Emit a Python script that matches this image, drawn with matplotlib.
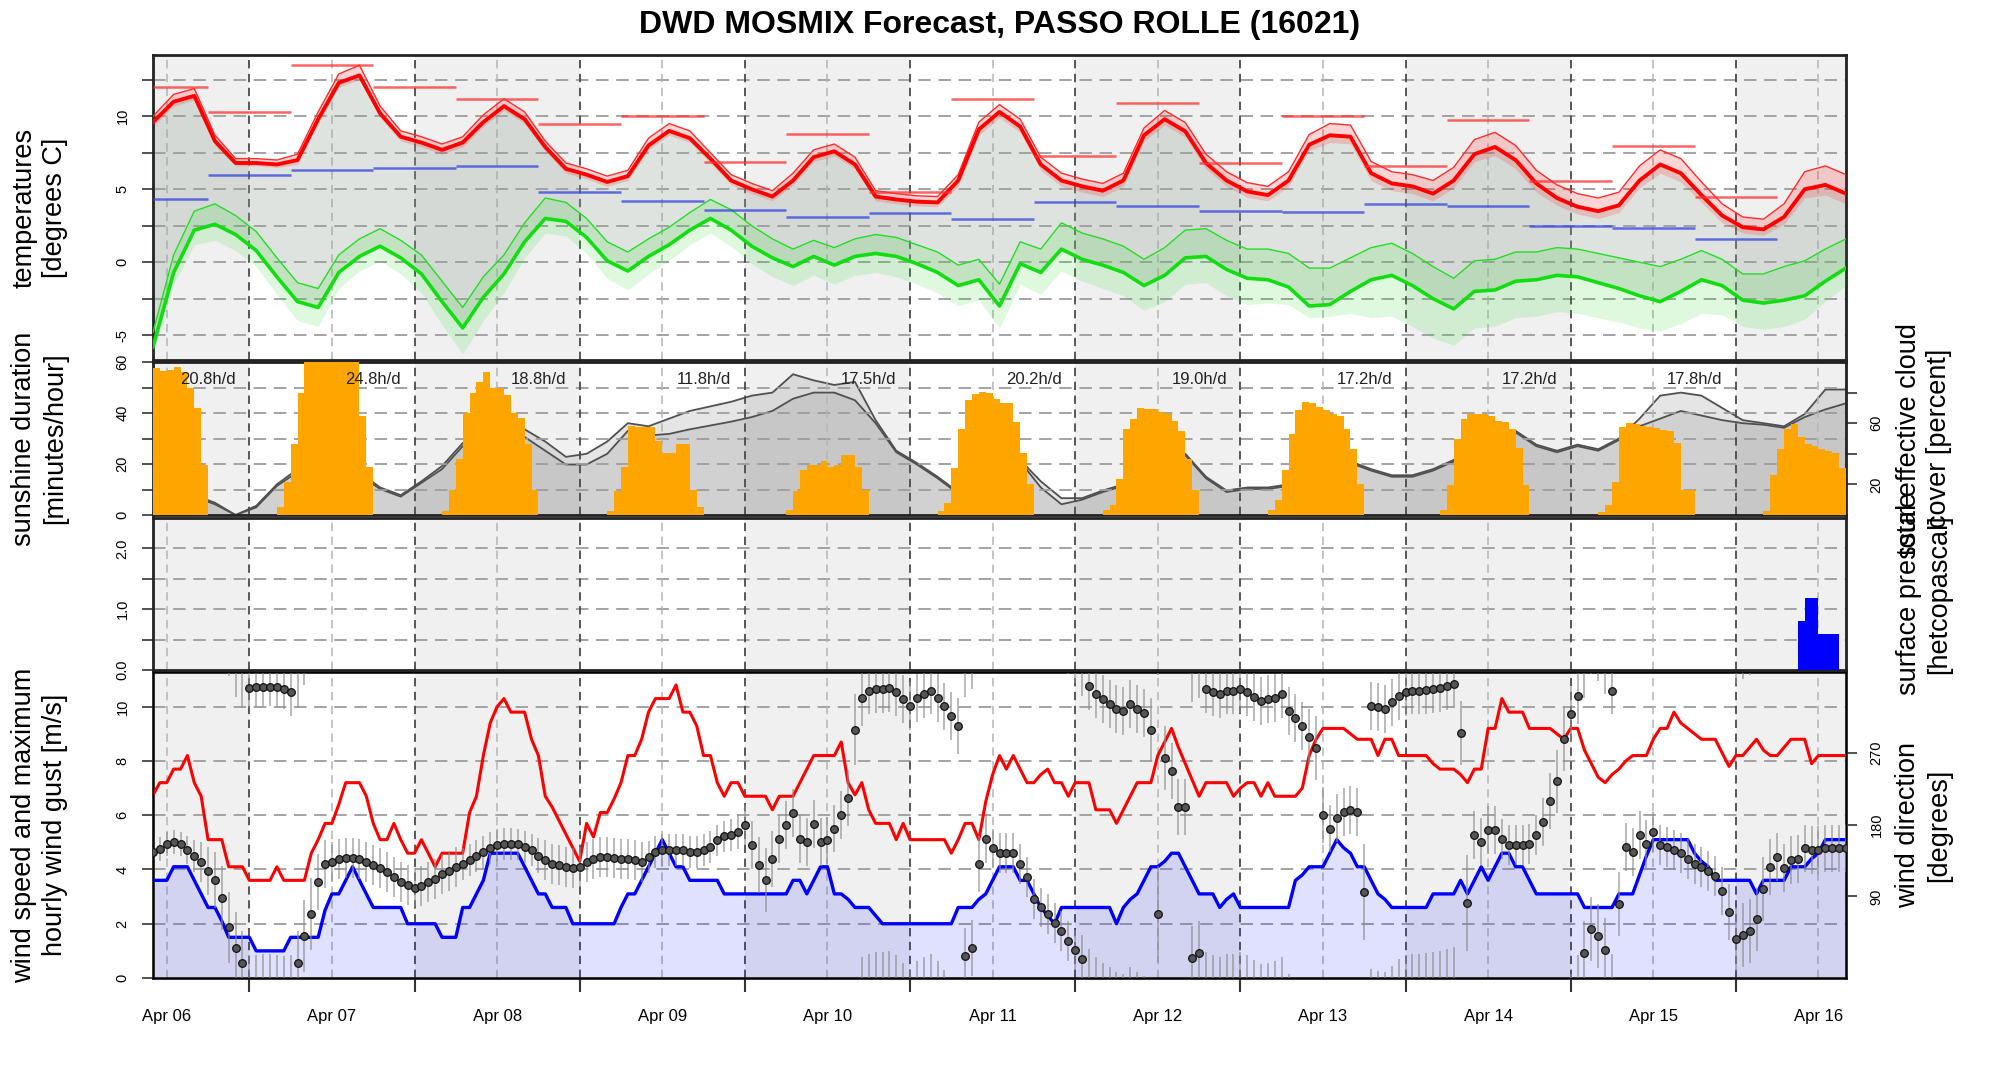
import matplotlib
matplotlib.use("Agg")
import matplotlib.pyplot as plt
import numpy as np

plt.rcParams["font.family"] = ["Liberation Sans", "DejaVu Sans"]
plt.rcParams["lines.scale_dashes"] = False

# ---------------------------------------------------------------- data
# time axis: hours since Apr 06 10:00 UTC, forecast runs to hour 246
day_labels = ["Apr 06", "Apr 07", "Apr 08", "Apr 09", "Apr 10", "Apr 11",
              "Apr 12", "Apr 13", "Apr 14", "Apr 15", "Apr 16"]
noons = [2, 26, 50, 74, 98, 122, 146, 170, 194, 218, 242]
midnights = [14, 38, 62, 86, 110, 134, 158, 182, 206, 230]
day_bands = [(0, 14), (38, 62), (86, 110), (134, 158), (182, 206), (230, 246)]

# 3-hourly temperature / dew point [degC]
temp = [9.6, 11.0, 11.4, 8.3, 6.8, 6.8, 6.7, 7.0, 9.8, 12.3,
        12.8, 10.2, 8.6, 8.2, 7.7, 8.2, 9.6, 10.7, 9.8, 7.9,
        6.4, 6.0, 5.5, 5.9, 8.0, 9.0, 8.5, 7.1, 5.6, 5.0,
        4.5, 5.6, 7.2, 7.6, 6.7, 4.5, 4.3, 4.15, 4.1, 5.6,
        9.1, 10.3, 9.3, 6.7, 5.6, 5.2, 4.9, 5.6, 8.7, 9.8,
        8.97, 6.8, 5.6, 4.85, 4.6, 5.6, 8.05, 8.7, 8.6, 6.1,
        5.4, 5.2, 4.7, 5.6, 7.4, 7.9, 7.0, 5.4, 4.4, 3.8,
        3.5, 3.9, 5.6, 6.7, 6.1, 4.6, 3.2, 2.4, 2.25, 3.1,
        5.0, 5.3, 4.7]
temp_up = [0.4, 0.5, 0.5, 0.4, 0.3, 0.3, 0.3, 0.4, 0.5, 0.6,
           0.7, 0.5, 0.4, 0.4, 0.4, 0.4, 0.5, 0.5, 0.5, 0.4,
           0.4, 0.4, 0.4, 0.4, 0.5, 0.5, 0.5, 0.4, 0.4, 0.4,
           0.4, 0.5, 0.5, 0.5, 0.5, 0.4, 0.4, 0.4, 0.4, 0.4,
           0.5, 0.5, 0.5, 0.5, 0.5, 0.5, 0.5, 0.5, 0.5, 0.6,
           0.6, 0.6, 0.6, 0.6, 0.6, 0.6, 0.7, 0.8, 0.8, 0.8,
           0.8, 0.8, 0.9, 0.9, 1.0, 1.0, 1.0, 0.9, 0.9, 0.9,
           0.9, 0.9, 1.0, 1.0, 1.0, 0.9, 0.8, 0.7, 0.7, 0.9,
           1.2, 1.3, 1.3]
temp_dn = [0.3, 0.3, 0.3, 0.3, 0.2, 0.2, 0.2, 0.3, 0.3, 0.3,
           0.3, 0.3, 0.3, 0.3, 0.3, 0.3, 0.3, 0.3, 0.3, 0.3,
           0.3, 0.3, 0.3, 0.3, 0.3, 0.3, 0.3, 0.3, 0.3, 0.3,
           0.3, 0.3, 0.3, 0.3, 0.3, 0.3, 0.3, 0.3, 0.3, 0.4,
           0.4, 0.4, 0.4, 0.4, 0.4, 0.4, 0.4, 0.4, 0.4, 0.4,
           0.4, 0.4, 0.4, 0.4, 0.4, 0.4, 0.4, 0.5, 0.5, 0.5,
           0.5, 0.5, 0.5, 0.5, 0.5, 0.6, 0.6, 0.6, 0.5, 0.5,
           0.5, 0.5, 0.5, 0.6, 0.6, 0.5, 0.5, 0.4, 0.4, 0.5,
           0.6, 0.7, 0.7]
dew = [-5.8, -0.7, 2.2, 2.6, 1.9, 0.8, -1.0, -2.7, -3.1, -0.7,
       0.4, 1.1, 0.3, -0.8, -2.7, -4.5, -2.4, -0.8, 1.4, 3.0,
       2.8, 1.7, 0.1, -0.6, 0.4, 1.2, 2.2, 3.0, 2.2, 1.1,
       0.3, -0.3, 0.4, -0.2, 0.4, 0.6, 0.4, -0.1, -0.7, -1.6,
       -1.2, -3.0, -0.1, -0.7, 0.9, 0.2, -0.2, -0.7, -1.6, -0.9,
       0.3, 0.4, -0.5, -1.1, -1.2, -1.7, -3.0, -2.9, -2.0, -1.2,
       -0.9, -1.6, -2.5, -3.2, -2.0, -1.9, -1.3, -1.2, -0.9, -1.0,
       -1.4, -1.8, -2.3, -2.7, -2.0, -1.2, -1.6, -2.6, -2.8, -2.6,
       -2.3, -1.3, -0.4]
dew_up = [1.0, 1.2, 1.3, 1.4, 1.3, 1.3, 1.3, 1.3, 1.3, 1.2,
          1.2, 1.2, 1.2, 1.3, 1.4, 1.4, 1.4, 1.3, 1.3, 1.4,
          1.3, 1.3, 1.3, 1.3, 1.2, 1.2, 1.2, 1.3, 1.4, 1.4,
          1.3, 1.2, 1.1, 1.2, 1.2, 1.3, 1.3, 1.3, 1.4, 1.4,
          1.4, 1.5, 1.5, 1.6, 1.8, 1.8, 1.8, 1.8, 1.8, 1.9,
          1.9, 1.9, 2.0, 2.0, 2.1, 2.3, 2.6, 2.5, 2.3, 2.2,
          2.2, 2.2, 2.2, 2.1, 2.1, 2.1, 2.0, 1.9, 1.9, 1.9,
          2.0, 2.1, 2.3, 2.4, 2.2, 2.0, 1.8, 1.8, 2.0, 2.3,
          2.4, 2.2, 2.0]
dew_dn = [0.5, 0.8, 1.0, 1.1, 1.1, 1.1, 1.2, 1.3, 1.3, 1.1,
          1.0, 1.0, 1.1, 1.3, 1.6, 1.8, 1.6, 1.3, 1.1, 1.0,
          1.0, 1.1, 1.2, 1.3, 1.2, 1.1, 1.0, 1.0, 1.1, 1.2,
          1.3, 1.3, 1.3, 1.3, 1.3, 1.3, 1.4, 1.4, 1.4, 1.4,
          1.4, 1.5, 1.4, 1.5, 1.5, 1.5, 1.6, 1.6, 1.7, 1.8,
          1.8, 1.8, 1.8, 1.8, 1.6, 1.2, 0.8, 0.8, 1.5, 2.6,
          2.8, 2.8, 2.7, 2.5, 2.5, 2.5, 2.5, 2.5, 2.5, 2.5,
          2.4, 2.3, 2.2, 2.0, 2.2, 2.3, 2.0, 1.8, 1.8, 1.8,
          1.6, 1.4, 1.2]

# 12-hour extremes (periods end 06 / 18 UTC)
period_edges = [0, 8, 20, 32, 44, 56, 68, 80, 92, 104, 116, 128, 140, 152,
                164, 176, 188, 200, 212, 224, 236]
tmax_12h = [12.0, 10.28, 13.5, 12.0, 11.2, 9.47, 10.0, 6.86, 8.76, 4.8,
            11.2, 7.25, 10.9, 6.77, 10.0, 6.56, 9.77, 5.55, 7.96, 4.5]
tmin_12h = [4.33, 5.96, 6.31, 6.49, 6.56, 4.84, 4.22, 3.56, 3.1, 3.37,
            2.96, 4.15, 3.88, 3.53, 3.42, 3.97, 3.88, 2.5, 2.34, 1.56]

# sunshine [minutes/hour], one block per day starting at the given hour
sun_start = [0, 18, 42, 66, 92, 114, 138, 162, 187, 210, 234]
sun_minutes = [
    [57.5, 56.5, 57.0, 58.0, 56.0, 50.0, 42.0, 19.7],
    [3, 13, 28, 48, 60, 60, 60, 60, 60, 60, 60, 60, 39, 19],
    [1.7, 10, 22, 40, 48, 52, 56, 50, 50, 47, 40, 38, 28, 10],
    [1.5, 9.5, 19, 35, 34.5, 34.5, 34.5, 29, 24.4, 24.4, 27.7, 27.7, 10, 3],
    [2, 9.5, 17.6, 19.6, 19.6, 21, 19, 19.6, 23.7, 23.7, 19, 10],
    [1.5, 4.8, 18.3, 33.8, 45.2, 47.6, 48.2, 48, 45.5, 44, 44, 36.5, 24.4, 12.2],
    [2, 4, 14, 33.8, 37.8, 41.9, 41.5, 41.5, 40.5, 39.8, 37, 33, 22, 10],
    [2, 6, 17.6, 31.8, 41.2, 44.5, 43.9, 42.5, 41.2, 39.8, 39, 33.8, 25.7, 12.2],
    [2, 11.6, 29.7, 37.8, 39.8, 39.8, 39.8, 39, 37, 36.5, 33.8, 26.4, 11.6],
    [1, 4, 13, 34.5, 36, 35.5, 35, 34.5, 34, 33.5, 33, 28.4, 10, 10],
    [1.5, 15.6, 25.7, 33.8, 35.8, 30.4, 27.7, 27, 25.7, 25, 24.5, 18.3],
]
sun_text_hours = [8, 32, 56, 80, 104, 128, 152, 176, 200, 224]
sun_text = ["20.8h/d", "24.8h/d", "18.8h/d", "11.8h/d", "17.5h/d",
            "20.2h/d", "19.0h/d", "17.2h/d", "17.2h/d", "17.8h/d"]

# 3-hourly cloud cover [percent]
cloud_total = [15, 15, 13, 8, 0, 6, 20, 30, 35, 35,
               28, 18, 13, 22, 32, 47, 52, 55, 56, 48,
               38, 40, 48, 60, 58, 63, 68, 71, 74, 78,
               80, 92, 88, 85, 87, 62, 42, 34, 25, 15,
               20, 28, 36, 22, 11, 11, 16, 20, 25, 35,
               40, 25, 16, 18, 18, 20, 24, 30, 35, 30,
               26, 26, 30, 36, 45, 50, 55, 46, 42, 46,
               43, 50, 63, 78, 80, 78, 70, 62, 60, 58,
               66, 82, 82]
cloud_eff = [14, 14, 12, 7, 0, 5, 19, 28, 33, 33,
             26, 17, 12, 21, 30, 45, 48, 50, 51, 42,
             33, 33, 40, 55, 52, 53, 56, 58.5, 61, 64,
             68, 76, 80, 80, 75, 60, 41, 33, 24, 14,
             19, 27, 35, 18, 7, 10, 15, 19, 24, 34,
             39, 24, 15, 17, 17, 19, 23, 29, 34, 29,
             25, 25, 29, 35, 44, 49, 54, 45, 41, 45,
             42, 49, 58, 63, 68, 65, 62, 60, 59, 57,
             64, 69, 73]

# precipitation [mm/h]
precip_hours = [239, 240, 241, 242, 243, 244]
precip = [0.81, 1.18, 1.18, 0.59, 0.59, 0.59]

# hourly wind
wind_mean = [3.6, 3.6, 3.6, 4.1, 4.1, 4.1, 3.6, 3.1, 2.6, 2.6,
             2.1, 1.5, 1.5, 1.5, 1.5, 1.0, 1.0, 1.0, 1.0, 1.0,
             1.5, 1.5, 1.5, 1.5, 1.5, 2.5, 3.1, 3.1, 3.6, 4.1,
             3.6, 3.1, 2.6, 2.6, 2.6, 2.6, 2.6, 2.0, 2.0, 2.0,
             2.0, 2.0, 1.5, 1.5, 1.5, 2.6, 2.6, 3.1, 3.6, 4.6,
             4.6, 4.6, 4.6, 4.6, 4.1, 3.6, 3.1, 3.1, 2.6, 2.6,
             2.6, 2.0, 2.0, 2.0, 2.0, 2.0, 2.0, 2.0, 2.6, 3.1,
             3.1, 3.6, 4.1, 4.6, 5.1, 4.6, 4.1, 4.1, 3.6, 3.6,
             3.6, 3.6, 3.6, 3.1, 3.1, 3.1, 3.1, 3.1, 3.1, 3.1,
             3.1, 3.1, 3.1, 3.6, 3.6, 3.1, 3.6, 4.1, 4.1, 3.1,
             3.1, 2.9, 2.6, 2.6, 2.6, 2.3, 2.0, 2.0, 2.0, 2.0,
             2.0, 2.0, 2.0, 2.0, 2.0, 2.0, 2.0, 2.6, 2.6, 2.6,
             2.9, 3.1, 3.6, 4.1, 4.1, 4.1, 3.6, 3.6, 3.1, 2.6,
             2.3, 2.0, 2.6, 2.6, 2.6, 2.6, 2.6, 2.6, 2.6, 2.6,
             2.0, 2.6, 2.9, 3.1, 3.6, 4.1, 4.1, 4.3, 4.6, 4.6,
             4.1, 3.6, 3.1, 3.1, 3.1, 2.6, 2.9, 3.1, 2.6, 2.6,
             2.6, 2.6, 2.6, 2.6, 2.6, 2.6, 3.6, 3.8, 4.1, 4.1,
             4.1, 4.6, 5.1, 4.8, 4.6, 4.1, 4.1, 3.6, 3.1, 2.9,
             2.6, 2.6, 2.6, 2.6, 2.6, 2.6, 3.1, 3.1, 3.1, 3.1,
             3.6, 3.1, 3.6, 4.1, 3.6, 4.1, 4.6, 4.6, 4.1, 4.1,
             3.6, 3.1, 3.1, 3.1, 3.1, 3.1, 3.1, 3.1, 2.6, 2.6,
             2.6, 2.6, 2.6, 3.1, 3.1, 3.1, 3.8, 4.5, 5.1, 5.1,
             5.1, 5.1, 5.1, 5.1, 4.6, 4.3, 4.1, 3.6, 3.6, 3.6,
             3.6, 3.6, 3.6, 3.1, 3.6, 3.6, 3.6, 3.6, 4.1, 4.1,
             4.1, 4.4, 4.6, 5.1, 5.1, 5.1, 5.1]
wind_gust = [6.75, 7.2, 7.2, 7.7, 7.7, 8.2, 7.2, 6.7, 5.1, 5.1,
             5.1, 4.1, 4.1, 4.1, 3.6, 3.6, 3.6, 3.6, 4.1, 3.6,
             3.6, 3.6, 3.6, 4.6, 5.1, 5.7, 5.7, 6.4, 7.2, 7.2,
             7.2, 6.7, 5.7, 5.1, 5.1, 5.7, 5.1, 4.6, 4.6, 5.1,
             4.6, 4.1, 4.6, 4.6, 4.6, 4.6, 6.1, 6.7, 8.2, 9.4,
             10.0, 10.3, 9.8, 9.8, 9.8, 8.8, 8.2, 6.7, 6.3, 5.8,
             5.3, 4.8, 4.3, 5.7, 5.2, 6.1, 6.1, 6.6, 7.2, 8.2,
             8.2, 8.8, 9.8, 10.3, 10.3, 10.3, 10.8, 9.8, 9.8, 9.3,
             8.2, 8.2, 7.2, 6.7, 7.2, 7.2, 6.7, 6.7, 6.7, 6.7,
             6.2, 6.7, 6.7, 6.7, 7.2, 7.7, 8.2, 8.2, 8.2, 8.2,
             8.7, 7.2, 6.75, 7.2, 6.2, 5.7, 5.7, 5.7, 5.1, 5.7,
             5.1, 5.1, 5.1, 5.1, 5.1, 5.1, 4.6, 5.1, 5.7, 5.7,
             5.1, 6.5, 7.5, 8.2, 7.7, 8.2, 7.7, 7.2, 7.2, 7.5,
             7.7, 7.2, 7.2, 6.7, 7.2, 7.2, 7.2, 6.2, 6.2, 6.2,
             5.7, 6.2, 6.7, 7.2, 7.2, 7.2, 8.2, 8.7, 9.2, 8.5,
             7.9, 7.3, 6.7, 7.2, 7.2, 7.2, 7.2, 6.7, 7.0, 7.2,
             7.2, 6.7, 7.2, 6.7, 6.7, 6.7, 6.7, 7.0, 8.2, 8.8,
             9.2, 9.2, 9.2, 9.2, 9.0, 8.8, 8.8, 8.8, 8.2, 8.8,
             8.8, 8.2, 8.2, 8.2, 8.2, 8.2, 7.9, 7.7, 7.7, 7.7,
             7.5, 7.2, 7.7, 7.7, 9.2, 9.2, 10.3, 9.8, 9.8, 9.8,
             9.2, 9.2, 9.2, 9.2, 9.0, 8.8, 9.2, 9.2, 8.4, 7.9,
             7.4, 7.2, 7.5, 7.7, 8.0, 8.2, 8.2, 8.2, 8.8, 9.2,
             9.2, 9.8, 9.4, 9.2, 9.0, 8.8, 8.8, 8.8, 8.3, 7.8,
             8.2, 8.2, 8.5, 8.8, 8.4, 8.2, 8.2, 8.5, 8.8, 8.8,
             8.8, 7.9, 8.2, 8.2, 8.2, 8.2, 8.2]
wind_dir = [146, 149, 155, 158, 155, 148, 140, 133, 122, 110,
            88, 51, 25, 6, 351, 352, 353, 353, 352, 350,
            346, 6, 40, 68, 108, 130, 133, 137, 138, 138,
            137, 133, 129, 125, 120, 114, 108, 104, 101, 103,
            108, 112, 118, 122, 127, 131, 135, 141, 146, 150,
            154, 156, 156, 155, 152, 148, 141, 135, 131, 129,
            127, 125, 127, 133, 137, 139, 139, 138, 137, 137,
            135, 133, 139, 146, 148, 148, 148, 148, 146, 146,
            148, 152, 160, 165, 167, 171, 179, 154, 129, 110,
            137, 162, 179, 194, 162, 158, 181, 158, 160, 175,
            192, 213, 299, 339, 348, 350, 350, 351, 346, 337,
            329, 339, 344, 348, 339, 328, 316, 303, 15, 25,
            131, 162, 150, 144, 144, 144, 131, 114, 87, 76,
            68, 57, 47, 34, 23, 11, 354, 344, 337, 331,
            325, 322, 331, 325, 320, 299, 68, 263, 247, 202,
            202, 13, 19, 350, 346, 344, 348, 348, 350, 346,
            340, 335, 337, 339, 344, 322, 314, 303, 290, 276,
            192, 175, 188, 196, 198, 196, 95, 329, 327, 325,
            333, 341, 346, 348, 348, 349, 350, 351, 354, 356,
            295, 82, 167, 158, 173, 173, 162, 154, 154, 154,
            156, 167, 183, 209, 234, 287, 318, 341, 19, 49,
            40, 23, 348, 80, 152, 146, 167, 156, 171, 154,
            152, 148, 144, 137, 131, 127, 122, 116, 97, 70,
            36, 42, 47, 61, 99, 127, 139, 125, 135, 137,
            150, 148, 148, 150, 150, 150, 150]
wind_dir_sd = [15, 15, 15, 15, 15, 18, 20, 25, 30, 35,
               40, 45, 45, 40, 25, 25, 25, 25, 25, 25,
               30, 40, 45, 45, 35, 30, 25, 25, 25, 25,
               25, 25, 25, 25, 25, 25, 25, 25, 25, 25,
               25, 25, 25, 25, 25, 20, 20, 20, 20, 20,
               20, 20, 20, 20, 20, 20, 22, 25, 25, 25,
               25, 25, 25, 25, 25, 25, 25, 25, 25, 25,
               25, 25, 20, 20, 20, 20, 20, 20, 20, 20,
               20, 20, 20, 20, 20, 22, 25, 30, 35, 40,
               35, 30, 30, 30, 30, 30, 30, 30, 30, 30,
               30, 35, 45, 35, 30, 30, 30, 30, 30, 30,
               30, 30, 30, 30, 30, 30, 30, 35, 35, 35,
               35, 30, 25, 25, 25, 25, 25, 25, 25, 25,
               25, 25, 25, 25, 25, 30, 30, 30, 30, 30,
               30, 30, 30, 30, 30, 40, 60, 40, 35, 35,
               35, 40, 40, 30, 30, 30, 30, 30, 30, 30,
               30, 30, 30, 30, 30, 30, 30, 30, 35, 40,
               35, 30, 30, 30, 30, 30, 60, 30, 30, 30,
               30, 30, 30, 30, 30, 30, 30, 30, 30, 30,
               40, 60, 30, 30, 30, 30, 25, 25, 25, 25,
               25, 25, 30, 35, 40, 40, 35, 35, 40, 40,
               40, 40, 30, 40, 30, 30, 30, 30, 25, 25,
               25, 25, 25, 25, 25, 25, 25, 25, 30, 35,
               40, 40, 40, 40, 40, 35, 30, 30, 30, 30,
               30, 30, 30, 30, 30, 30, 30]

# ---------------------------------------------------------------- layout
W, H = 2000, 1067
X0, X1 = 153, 1846
SHADE = "#f0f0f0"
GRID = dict(color="#9c9c9c", lw=1.3, ls=(0, (9, 5.5)), zorder=1)
MID = dict(color="#4a4a4a", lw=1.3, ls=(0, (6, 4)), zorder=1)
NOON = dict(color="#b4b4b4", lw=1.1, ls=(0, (6, 4)), zorder=1)

h3 = np.arange(0, 247, 3)
hrs = np.arange(247)

fig = plt.figure(figsize=(W / 100, H / 100), dpi=100)


def panel(top, bottom):
    return fig.add_axes([X0 / W, 1 - bottom / H, (X1 - X0) / W, (bottom - top) / H])


def shade(ax):
    for a, b in day_bands:
        ax.axvspan(a, b, color=SHADE, lw=0, zorder=0)


def style(ax, ylim, major, labels, minor, grid):
    ax.set_xlim(0, 246)
    ax.set_ylim(*ylim)
    ax.set_yticks(major)
    ax.set_yticklabels(labels)
    ax.set_yticks(minor, minor=True)
    ax.tick_params(axis="y", which="both", direction="out", length=8, width=1.2,
                   color="#333333", pad=9, labelsize=10.5)
    for lb in ax.get_yticklabels():
        lb.set_rotation(90)
        lb.set_va("center")
    ax.set_xticks([])
    for y in grid:
        ax.axhline(y, **GRID)
    for x in midnights:
        ax.axvline(x, **MID)
    for x in noons:
        ax.axvline(x, **NOON)
    for sp in ax.spines.values():
        sp.set_linewidth(2)
        sp.set_color("#222222")


# ---- temperatures
ax_t = panel(55, 360)
shade(ax_t)
style(ax_t, (-6.7, 14.2), [-5, 0, 5, 10], ["-5", "0", "5", "10"],
      [-2.5, 2.5, 7.5, 12.5], [-5, -2.5, 0, 2.5, 5, 7.5, 10, 12.5])
t = np.array(temp)
d = np.array(dew)
ax_t.fill_between(h3, d, t, color="#97a597", alpha=0.3, lw=0, zorder=2)
ax_t.fill_between(h3, t - np.array(temp_dn), t + np.array(temp_up),
                  color="#ff0000", alpha=0.17, lw=0, zorder=3)
ax_t.fill_between(h3, d - np.array(dew_dn), d + np.array(dew_up),
                  color="#22dd22", alpha=0.15, lw=0, zorder=3)
ax_t.plot(h3, t + np.array(temp_up), color="#ff2a2a", lw=1.0, zorder=4)
ax_t.plot(h3, d + np.array(dew_up), color="#22dd22", lw=1.0, zorder=4)
ax_t.plot(h3, t, color="#ff0000", lw=2.8, zorder=5)
ax_t.plot(h3, d, color="#11dd11", lw=2.6, zorder=5)
ax_t.hlines(tmax_12h, period_edges[:-1], period_edges[1:], color="#ff3030",
            lw=1.8, alpha=0.75, zorder=6)
ax_t.hlines(tmin_12h, period_edges[:-1], period_edges[1:], color="#3344dd",
            lw=1.8, alpha=0.75, zorder=6)

# ---- sunshine + cloud cover
ax_s = panel(362, 515)
ax_c = ax_s.twinx()
ax_s.set_zorder(ax_c.get_zorder() + 1)
ax_s.patch.set_visible(False)
shade(ax_c)
style(ax_s, (0, 60), [0, 20, 40, 60], ["0", "20", "40", "60"], [10, 30, 50],
      [10, 20, 30, 40, 50])
ax_c.set_ylim(0, 100)
ax_c.fill_between(h3, 0, cloud_total, color="#8a8a8a", alpha=0.22, lw=0, zorder=2)
ax_c.fill_between(h3, 0, cloud_eff, color="#8a8a8a", alpha=0.22, lw=0, zorder=2)
ax_c.plot(h3, cloud_total, color="#505050", lw=1.3, zorder=3)
ax_c.plot(h3, cloud_eff, color="#505050", lw=1.3, zorder=3)
ax_c.set_yticks([20, 40, 60, 80])
ax_c.set_yticklabels(["20", "", "60", ""])
ax_c.tick_params(axis="y", direction="out", length=8, width=1.2, color="#333333",
                 pad=9, labelsize=10.5)
for lb in ax_c.get_yticklabels():
    lb.set_rotation(90)
    lb.set_va("center")
for start, vals in zip(sun_start, sun_minutes):
    ax_s.bar(start + np.arange(len(vals)), vals, width=1, align="edge",
             color="#ffa500", lw=0, zorder=3)
for hx, txt in zip(sun_text_hours, sun_text):
    ax_s.text(hx, 53, txt, ha="center", va="center", fontsize=12,
              color="#222222", zorder=5)

# ---- precipitation
ax_p = panel(518, 670)
shade(ax_p)
style(ax_p, (0, 2.5), [0, 1, 2], ["0.0", "1.0", "2.0"], [0.5, 1.5],
      [0.5, 1.0, 1.5, 2.0])
ax_p.bar(precip_hours, precip, width=1, align="edge", color="#0000ff", lw=0,
         zorder=3)

# ---- wind
ax_w = panel(672, 978)
shade(ax_w)
style(ax_w, (0, 11.28), [0, 2, 4, 6, 8, 10], ["0", "2", "4", "6", "8", "10"], [],
      [2, 4, 6, 8, 10])
ax_w.fill_between(hrs, 0, wind_mean, color="#0000ff", alpha=0.12, lw=0, zorder=2)
ax_w.plot(hrs, wind_mean, color="#0000ff", lw=2.4, zorder=4)
ax_w.plot(hrs, wind_gust, color="#ff0000", lw=2.2, zorder=4)
ax_w.set_xticks(midnights)
ax_w.set_xticklabels([])
ax_w.tick_params(axis="x", which="major", direction="out", length=10, width=1.5,
                 color="#333333")
ax_w.set_xticks(noons, minor=True)
ax_w.set_xticklabels(day_labels, minor=True)
ax_w.tick_params(axis="x", which="minor", length=0, pad=22, labelsize=12)

ax_d = ax_w.twinx()
ax_d.set_xlim(0, 246)
ax_d.set_ylim(-12.4, 371.2)
wd = np.array(wind_dir, dtype=float)
sd = np.array(wind_dir_sd, dtype=float)
for shift in (-360, 0, 360):  # direction is periodic, bars wrap round
    ax_d.vlines(hrs, wd - sd + shift, wd + sd + shift, color="#8c8c8c",
                lw=1.2, alpha=0.7, zorder=2)
ax_d.plot(hrs, wd, "o", ms=5.5, mfc="#555555", mec="#111111", mew=0.9,
          ls="none", zorder=3)
ax_d.set_yticks([90, 180, 270])
ax_d.set_yticklabels(["90", "180", "270"])
ax_d.tick_params(axis="y", direction="out", length=8, width=1.2, color="#333333",
                 pad=9, labelsize=10.5)
for lb in ax_d.get_yticklabels():
    lb.set_rotation(90)
    lb.set_va("center")

# ---- labels (the two right-hand labels overlap, as in the original)
lab = dict(rotation=90, ha="center", va="center", fontsize=19.5,
           linespacing=1.25, multialignment="center")
fig.text(40 / W, 1 - 207.5 / H, "temperatures\n[degrees C]", **lab)
fig.text(40 / W, 1 - 438.5 / H, "sunshine duration\n[minutes/hour]", **lab)
fig.text(40 / W, 1 - 825 / H, "wind speed and maximum\nhourly wind gust [m/s]", **lab)
fig.text(1924 / W, 1 - 438.5 / H, "total effective cloud\ncover [percent]", **lab)
fig.text(1924 / W, 1 - 594 / H, "surface pressure\n[hetcopascal]", **lab)
fig.text(1924 / W, 1 - 825 / H, "wind direction\n[degrees]", **lab)
fig.text((X0 + X1) / 2 / W, 1 - 25.5 / H, "DWD MOSMIX Forecast, PASSO ROLLE (16021)",
         ha="center", va="center", fontsize=23, fontweight="bold")

fig.savefig("out.png", dpi=100)
